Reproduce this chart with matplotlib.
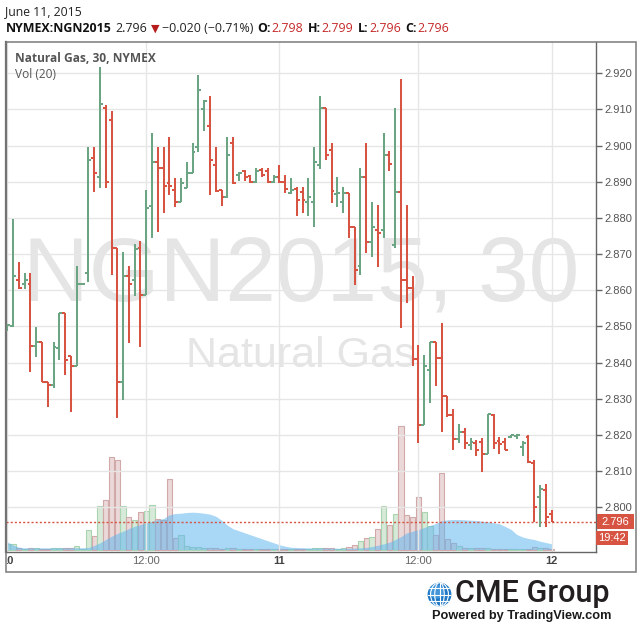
import numpy as np
import matplotlib
matplotlib.use('Agg')
import matplotlib.pyplot as plt
from matplotlib.collections import LineCollection
from matplotlib.patches import Rectangle, Circle, Ellipse
from matplotlib.text import Annotation
from matplotlib.transforms import Bbox, TransformedBbox, blended_transform_factory

plt.rcParams['font.family'] = ['Liberation Sans', 'DejaVu Sans']

# 30 minute bars, NGN2015, June 10 - June 11
opens = [2.8488, 2.8500, 2.8628, 2.8617, 2.8617, 2.8446, 2.8458, 2.8347, 2.8338, 2.8439,
         2.8536, 2.8418, 2.8389, 2.8616, 2.8647, 2.8965, 2.8914, 2.9103, 2.9070, 2.8718,
         2.8347, 2.8638, 2.8627, 2.8716, 2.8587, 2.8834, 2.8956, 2.8937, 2.8896, 2.8878,
         2.8845, 2.8882, 2.8923, 2.8995, 2.9100, 2.9054, 2.8946, 2.8876, 2.8857, 2.9006,
         2.8920, 2.8930, 2.8915, 2.8900, 2.8932, 2.8930, 2.8898, 2.8914, 2.8900, 2.8870,
         2.8880, 2.8872, 2.8845, 2.8845, 2.8946, 2.9103, 2.8988, 2.8866, 2.8845, 2.8868,
         2.8776, 2.8667, 2.8914, 2.8734, 2.8767, 2.8767, 2.8975, 2.8725, 2.8873, 2.8628,
         2.8605, 2.8409, 2.8227, 2.8379, 2.8458, 2.8412, 2.8306, 2.8255, 2.8188, 2.8209,
         2.8172, 2.8178, 2.8181, 2.8147, 2.8255, 2.8182, 2.8181, 2.8195, 2.8196, 2.8165,
         2.8195, 2.8121, 2.8029, 2.8047, 2.7980]
highs = [2.8507, 2.8796, 2.8679, 2.8647, 2.8647, 2.8497, 2.8458, 2.8347, 2.8458, 2.8538,
         2.8536, 2.8418, 2.8668, 2.8620, 2.8995, 2.8995, 2.9217, 2.9112, 2.9097, 2.8718,
         2.8707, 2.8667, 2.8728, 2.8737, 2.8876, 2.9036, 2.8995, 2.8995, 2.9024, 2.8910,
         2.8910, 2.8955, 2.9007, 2.9195, 2.9126, 2.9137, 2.8995, 2.8876, 2.9024, 2.9024,
         2.8926, 2.8932, 2.8920, 2.8937, 2.8937, 2.8937, 2.8919, 2.8946, 2.8919, 2.8910,
         2.8886, 2.8886, 2.8910, 2.8995, 2.9137, 2.9103, 2.9006, 2.8914, 2.8886, 2.8868,
         2.8776, 2.8937, 2.9006, 2.8845, 2.8836, 2.9034, 2.8985, 2.9103, 2.9183, 2.8836,
         2.8638, 2.8449, 2.8421, 2.8458, 2.8458, 2.8508, 2.8307, 2.8271, 2.8230, 2.8218,
         2.8190, 2.8185, 2.8190, 2.8258, 2.8258, 2.8195, 2.8190, 2.8200, 2.8201, 2.8183,
         2.8200, 2.8130, 2.8061, 2.8063, 2.7992]
lows = [2.8486, 2.8499, 2.8603, 2.8603, 2.8375, 2.8416, 2.8347, 2.8276, 2.8329, 2.8407,
        2.8366, 2.8264, 2.8389, 2.8614, 2.8624, 2.8873, 2.8882, 2.8882, 2.8642, 2.8246,
        2.8295, 2.8455, 2.8584, 2.8444, 2.8587, 2.8744, 2.8762, 2.8813, 2.8863, 2.8831,
        2.8845, 2.8882, 2.8923, 2.8983, 2.9041, 2.8863, 2.8873, 2.8834, 2.8855, 2.8894,
        2.8903, 2.8903, 2.8896, 2.8896, 2.8914, 2.8896, 2.8896, 2.8896, 2.8868, 2.8866,
        2.8804, 2.8813, 2.8804, 2.8776, 2.8934, 2.8960, 2.8842, 2.8831, 2.8813, 2.8744,
        2.8615, 2.8642, 2.8704, 2.8693, 2.8665, 2.8744, 2.8930, 2.8716, 2.8495, 2.8564,
        2.8389, 2.8177, 2.8227, 2.8287, 2.8335, 2.8209, 2.8250, 2.8158, 2.8176, 2.8160,
        2.8158, 2.8140, 2.8098, 2.8147, 2.8160, 2.8147, 2.8158, 2.8192, 2.8188, 2.8140,
        2.8121, 2.7960, 2.7946, 2.7946, 2.7960]
closes = [2.8505, 2.8638, 2.8605, 2.8628, 2.8446, 2.8458, 2.8347, 2.8338, 2.8442, 2.8536,
          2.8407, 2.8389, 2.8616, 2.8618, 2.8960, 2.8923, 2.9115, 2.8900, 2.8718, 2.8347,
          2.8638, 2.8617, 2.8713, 2.8587, 2.8827, 2.8956, 2.8937, 2.8887, 2.8887, 2.8845,
          2.8896, 2.8923, 2.8983, 2.9154, 2.9124, 2.8960, 2.8875, 2.8857, 2.8974, 2.8896,
          2.8925, 2.8912, 2.8900, 2.8930, 2.8918, 2.8898, 2.8914, 2.8898, 2.8880, 2.8878,
          2.8850, 2.8850, 2.8859, 2.8956, 2.9103, 2.8974, 2.8875, 2.8870, 2.8868, 2.8776,
          2.8656, 2.8914, 2.8734, 2.8776, 2.8758, 2.8974, 2.8950, 2.8873, 2.8628, 2.8605,
          2.8409, 2.8227, 2.8390, 2.8458, 2.8412, 2.8306, 2.8255, 2.8188, 2.8209, 2.8178,
          2.8180, 2.8158, 2.8147, 2.8258, 2.8177, 2.8174, 2.8158, 2.8199, 2.8199, 2.8178,
          2.8125, 2.8000, 2.8049, 2.7973, 2.7960]
volumes = [6, 6, 1.5, 1, 2, 1.5, 1, 1, 1.5, 2,
           1.5, 1.5, 4, 1, 19.3, 13.3, 44, 50, 93, 90,
           44, 32.7, 30, 38, 39, 45, 30.7, 30, 71, 12,
           14.3, 3.3, 2.7, 3, 2, 1.5, 2, 1, 2, 1.5,
           0.7, 0.7, 0.7, 0.7, 0.7, 0.7, 0.7, 1, 0.8, 1,
           1, 1, 1, 1.5, 2, 1.5, 1.5, 1, 1.5, 2.7,
           4.3, 8.7, 12, 12.7, 21, 43.3, 25, 36, 124, 34.3,
           32.8, 52.5, 37.8, 23.5, 14.2, 76.2, 10.5, 6.5, 3.5, 2,
           2, 1.5, 2, 2, 1, 1, 1, 0.5, 0.5, 1,
           1, 3, 2, 2, 0.5]
vol_ma = [7.7, 4.5, 2.3, 1.7, 1.7, 1.7, 1.7, 1.7, 1.7, 1.7,
          1.7, 1.7, 1.7, 1.7, 2, 4, 6.7, 10, 13.3, 16,
          18.3, 21, 23.3, 25, 26.7, 28.3, 30, 31, 34.7, 36,
          36.3, 37, 37.3, 37, 36.3, 35.3, 33.3, 29.3, 24.3, 20.7,
          18.7, 16.7, 14.7, 12.7, 10.7, 8.7, 6.7, 4.7, 3.3, 2.3,
          2, 1.8, 1.6, 1.5, 1.5, 1.4, 1.3, 1.2, 1.2, 1.3,
          1.4, 1.7, 2, 3, 4.3, 5.7, 7.3, 10, 13, 16.7,
          18.3, 20, 22, 24, 26, 28.7, 29.7, 30, 30, 29.7,
          29.3, 29, 28.3, 27.7, 26.7, 25.7, 23, 20, 15, 12.5,
          11, 10, 8.3, 7, 5.7]

tick_bars = [0, 24, 47, 71, 94]
tick_labels = ['10', '12:00', '11', '12:00', '12']
price_ticks = [2.800, 2.810, 2.820, 2.830, 2.840, 2.850, 2.860,
               2.870, 2.880, 2.890, 2.900, 2.910, 2.920]
last_price = 2.796

UP = '#6ba583'
DOWN = '#d75442'
W, H = 640, 627


def fx(px):
    return px / W


def fy(py):
    return 1 - py / H


fig = plt.figure(figsize=(6.4, 6.27), dpi=100)
rect = [fx(6), fy(552), fx(596) - fx(6), fy(42) - fy(552)]

# volume pane underneath
ax_vol = fig.add_axes(rect)
ax_vol.set_axis_off()
x = np.arange(len(closes))
up = np.array(closes) >= np.array(opens)
face = ['#d7ead9' if u else '#ebd8d8' for u in up]
edge = ['#a9d4b0' if u else '#d2a9a9' for u in up]
ax_vol.bar(x, volumes, width=0.9, color=face, edgecolor=edge, linewidth=0.8, zorder=2)
ax_vol.fill_between(x, 0, vol_ma, color='#63b6ef', alpha=0.55, lw=0, zorder=3)
ax_vol.set_xlim(-0.22, 101.67)
ax_vol.set_ylim(-2.5, 507.5)

# price pane on top
ax = fig.add_axes(rect)
ax.patch.set_visible(False)
ax.set_xlim(-0.22, 101.67)
ax.set_ylim(2.78758, 2.92866)
ax.set_axisbelow(True)
ax.set_yticks(price_ticks)
ax.set_yticklabels(['%.3f' % p for p in price_ticks])
ax.yaxis.tick_right()
ax.tick_params(axis='y', direction='out', length=4, width=1, color='#666',
               labelsize=8, labelcolor='#555', pad=2)
ax.set_xticks(tick_bars)
ax.tick_params(axis='x', length=0, labelbottom=False)
ax.grid(True, color='#e6e6e6', lw=1)
ax.spines['top'].set_visible(False)
ax.spines['left'].set_color('#5a5a5a')
ax.spines['left'].set_linewidth(1.6)
for s in ['right', 'bottom']:
    ax.spines[s].set_color('#666')
    ax.spines[s].set_linewidth(1)

# watermark
ax.text(fx(23), fy(300), 'NGN2015, 30', transform=fig.transFigure, fontsize=65.5,
        color='#e5e5e5', ha='left', va='baseline', zorder=0.3)
ax.text(fx(186), fy(367), 'Natural Gas', transform=fig.transFigure, fontsize=31,
        color='#e5e5e5', ha='left', va='baseline', zorder=0.3)

# OHLC bars
segs, cols = [], []
tw = 0.5
for i in range(len(closes)):
    c = UP if up[i] else DOWN
    segs += [[(i, lows[i]), (i, highs[i])],
             [(i - tw, opens[i]), (i, opens[i])],
             [(i, closes[i]), (i + tw, closes[i])]]
    cols += [c, c, c]
ax.add_collection(LineCollection(segs, colors=cols, linewidths=1.45,
                                 capstyle='butt', zorder=3))

# last price line and labels
ax.axhline(last_price, color=DOWN, lw=1, ls=(0, (1.5, 1.5)), zorder=2.5)
bt = blended_transform_factory(ax.transAxes, ax.transData)
ax.add_patch(Rectangle((1.0017, last_price - 0.0021), 0.0627, 0.0042, transform=bt,
                       fc=DOWN, ec='none', clip_on=False, zorder=5))
ax.text(1.0017 + 0.0627 / 2, last_price, '%.3f' % last_price, transform=bt, ha='center',
        va='center', color='white', fontsize=8, clip_on=False, zorder=6)
ax.add_patch(Rectangle((1.0005, last_price - 0.00651), 0.054, 0.00387, transform=bt,
                       fc=DOWN, ec='none', clip_on=False, zorder=5))
ax.text(1.0005 + 0.027, last_price - 0.00458, '19:42', transform=bt, ha='center',
        va='center', color='white', fontsize=8, clip_on=False, zorder=6)

# outer frame
fig.add_artist(Rectangle((fx(6), fy(572)), fx(636) - fx(6), fy(42) - fy(572),
                         transform=fig.transFigure, fill=False, ec='#7a7a7a', lw=1.1))
frame_box = TransformedBbox(Bbox([[fx(6.5), fy(572)], [fx(636), fy(42)]]), fig.transFigure)

# x labels
xt = blended_transform_factory(ax.transData, fig.transFigure)
for b, lab in zip(tick_bars, tick_labels):
    day = ':' not in lab
    t = fig.text(b, fy(561), lab, transform=xt, ha='center', va='center', fontsize=8,
                 color='#444' if day else '#666', fontweight='bold' if day else 'normal')
    t.set_clip_box(frame_box)
    t.set_clip_on(True)

# legend texts
fig.text(fx(15), fy(58), 'Natural Gas, 30, NYMEX', fontsize=8.6, fontweight='bold',
         color='#555', va='center', family=['Open Sans', 'DejaVu Sans'])
fig.text(fx(15), fy(75), 'Vol (20)', fontsize=8.6, color='#555', va='center',
         family=['Open Sans', 'DejaVu Sans'])

# header
fig.text(fx(5), fy(12), 'June 11, 2015', fontsize=8.8, color='#222', va='center',
         family=['Open Sans', 'DejaVu Sans'])
hdr = [('NYMEX:NGN2015', 0, dict(fontweight='bold', color='#111')),
       ('2.796', 4, dict(color='#222')),
       ('\u25BC', 3, dict(color='#b71c1c', family=['DejaVu Sans'], fontsize=8)),
       ('\u22120.020 (\u22120.71%)', 3, dict(color='#222')),
       ('O:', 4, dict(fontweight='bold', color='#111')),
       ('2.798', 1, dict(color='#c62828')),
       ('H:', 4, dict(fontweight='bold', color='#111')),
       ('2.799', 1, dict(color='#c62828')),
       ('L:', 4, dict(fontweight='bold', color='#111')),
       ('2.796', 1, dict(color='#c62828')),
       ('C:', 4, dict(fontweight='bold', color='#111')),
       ('2.796', 1, dict(color='#c62828'))]
prev = None
for txt, gap, kw in hdr:
    kw = dict(kw)
    kw.setdefault('family', ['Open Sans', 'DejaVu Sans'])
    kw.setdefault('fontsize', 8.9)
    if prev is None:
        prev = fig.text(fx(6), fy(28.5), txt, va='center', ha='left', **kw)
    else:
        a = Annotation(txt, xy=(1, fy(28.5)), xycoords=(prev, 'figure fraction'),
                       xytext=(gap, 0), textcoords='offset pixels', va='center',
                       ha='left', **kw)
        fig.add_artist(a)
        prev = a

# CME logo
gax = fig.add_axes([fx(427), fy(607), 25 / W, 25 / H])
gax.set_xlim(-1.05, 1.05)
gax.set_ylim(-1.05, 1.05)
gax.set_aspect('equal')
gax.set_axis_off()
globe = Circle((0, 0), 1, fc='#1f78c6', ec='none')
gax.add_patch(globe)
gax.add_patch(Circle((-0.25, 0.25), 0.6, fc='#5aaae6', ec='none', alpha=0.6))
for yy in [-0.55, 0, 0.55]:
    ln, = gax.plot([-1, 1], [yy, yy], color='white', lw=0.8)
    ln.set_clip_path(globe)
for ww in [0.8, 1.5]:
    e = Ellipse((0, 0), ww, 2, fill=False, ec='white', lw=0.8)
    gax.add_patch(e)
    e.set_clip_path(globe)
ln, = gax.plot([0, 0], [-1, 1], color='white', lw=0.8)
ln.set_clip_path(globe)

fig.text(fx(455), fy(602), 'CME Group', fontsize=22, color='#231f20', ha='left',
         va='baseline', family=['Roboto', 'Liberation Sans'], fontweight='medium')
fig.text(fx(522), fy(616), 'Powered by TradingView.com', fontsize=9.2,
         fontweight='bold', color='#1a1a1a', ha='center', va='center')

fig.savefig('out.png', dpi=100)
